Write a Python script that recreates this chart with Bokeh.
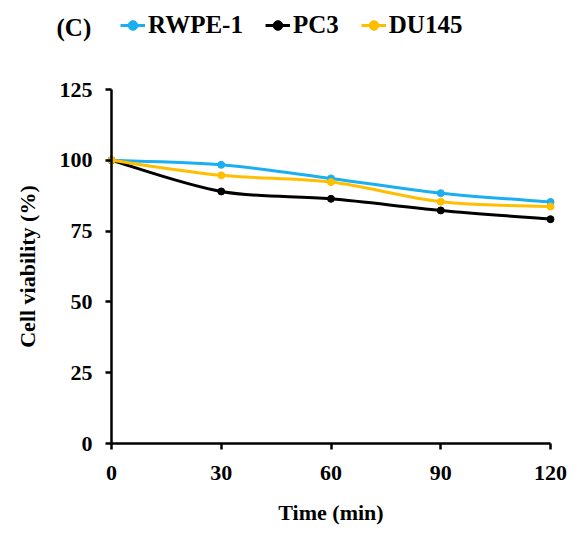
from bokeh.plotting import figure
from bokeh.models import Range1d, Legend, LegendItem, Label, FixedTicker, ColumnDataSource
from bokeh.embed import file_html
from bokeh.resources import INLINE
import numpy as np

time_min = [0, 30, 60, 90, 120]
rwpe1 = [100, 98.4, 93.6, 88.4, 85.3]
pc3 = [100, 89.0, 86.4, 82.3, 79.2]
du145 = [100, 94.7, 92.3, 85.4, 83.7]
x_ticks = [0, 30, 60, 90, 120]
y_ticks = [0, 25, 50, 75, 100, 125]
panel_tag = "(C)"

series = [("RWPE-1", rwpe1, "#1AAFEF"), ("PC3", pc3, "#000000"), ("DU145", du145, "#FFBF00")]

FONT = "Liberation Serif"
W, H = 571, 525
# pixel layout of the axes box inside the canvas
PX_LEFT, PX_RIGHT, PX_TOP, PX_BOTTOM = 111, 550, 89, 443
XMIN, XMAX, YMIN, YMAX = 0, 120, 0, 125
sx = (PX_RIGHT - PX_LEFT) / (XMAX - XMIN)
sy = (PX_BOTTOM - PX_TOP) / (YMAX - YMIN)
x_range = Range1d(XMIN - PX_LEFT / sx, XMAX + (W - PX_RIGHT) / sx)
y_range = Range1d(YMIN - (H - PX_BOTTOM) / sy, YMAX + PX_TOP / sy)

p = figure(width=W, height=H, output_backend="svg", toolbar_location=None,
           x_range=x_range, y_range=y_range,
           min_border=0)
p.outline_line_color = None
p.xgrid.grid_line_color = None
p.ygrid.grid_line_color = None
p.background_fill_color = "white"


def smooth_controls(xs, ys):
    xs = np.asarray(xs, float)
    ys = np.asarray(ys, float)
    n = len(xs)
    px = np.concatenate([[xs[0]], xs, [xs[-1]]])
    py = np.concatenate([[ys[0]], ys, [ys[-1]]])
    x0, y0, x1, y1, cx0, cy0, cx1, cy1 = [], [], [], [], [], [], [], []
    for i in range(n - 1):
        a, b = i + 1, i + 2
        x0.append(px[a]); y0.append(py[a]); x1.append(px[b]); y1.append(py[b])
        cx0.append(px[a] + (px[a + 1] - px[a - 1]) / 6.0)
        cy0.append(py[a] + (py[a + 1] - py[a - 1]) / 6.0)
        cx1.append(px[b] - (px[b + 1] - px[b - 1]) / 6.0)
        cy1.append(py[b] - (py[b + 1] - py[b - 1]) / 6.0)
    return dict(x0=x0, y0=y0, x1=x1, y1=y1, cx0=cx0, cy0=cy0, cx1=cx1, cy1=cy1)


items = []
for name, vals, col in series:
    src = ColumnDataSource(smooth_controls(time_min, vals))
    br = p.bezier(x0="x0", y0="y0", x1="x1", y1="y1", cx0="cx0", cy0="cy0", cx1="cx1", cy1="cy1",
                  source=src, line_color=col, line_width=3)
    sr = p.scatter(time_min, vals, size=7, fill_color=col, line_color=col)
    items.append(LegendItem(label=name, renderers=[br, sr]))

legend = Legend(items=items, orientation="horizontal", location=(120, H - 39),
                label_text_font=FONT, label_text_font_style="bold", label_text_font_size="25px",
                label_text_color="black",
                glyph_width=25, glyph_height=24, label_height=24, label_standoff=3,
                spacing=22, padding=0, margin=0, border_line_color=None, background_fill_alpha=0)
p.add_layout(legend, "center")

p.add_layout(Label(x=XMIN - (PX_LEFT - 56) / sx, y=YMAX + (PX_TOP - 27) / sy, text=panel_tag,
                   text_font=FONT, text_font_style="bold", text_color="black",
                   text_font_size="25px", text_baseline="middle", text_align="left"))

for ax in (p.xaxis[0], p.yaxis[0]):
    ax.fixed_location = 0
    ax.axis_line_width = 2.5
    ax.axis_line_color = "black"
    ax.major_tick_line_width = 2.5
    ax.major_tick_line_color = "black"
    ax.major_tick_in = 0
    ax.major_tick_out = 6
    ax.minor_tick_line_color = None
    ax.major_label_text_font = FONT
    ax.major_label_text_font_style = "bold"
    ax.major_label_text_font_size = "22px"
    ax.major_label_text_color = "black"
    ax.axis_label_text_font = FONT
    ax.axis_label_text_font_style = "bold"
    ax.axis_label_text_font_size = "22px"
    ax.axis_label_text_color = "black"

p.xaxis.ticker = FixedTicker(ticks=x_ticks)
p.yaxis.ticker = FixedTicker(ticks=y_ticks)
p.xaxis.bounds = (XMIN, XMAX)
p.yaxis.bounds = (YMIN, YMAX)
p.xaxis.axis_label = "Time (min)"
p.yaxis.axis_label = "Cell viability (%)"
p.xaxis.major_label_standoff = 16
p.yaxis.major_label_standoff = 13
p.xaxis.axis_label_standoff = 17
p.yaxis.axis_label_standoff = 17

open("out.html", "w").write(file_html(p, INLINE))
